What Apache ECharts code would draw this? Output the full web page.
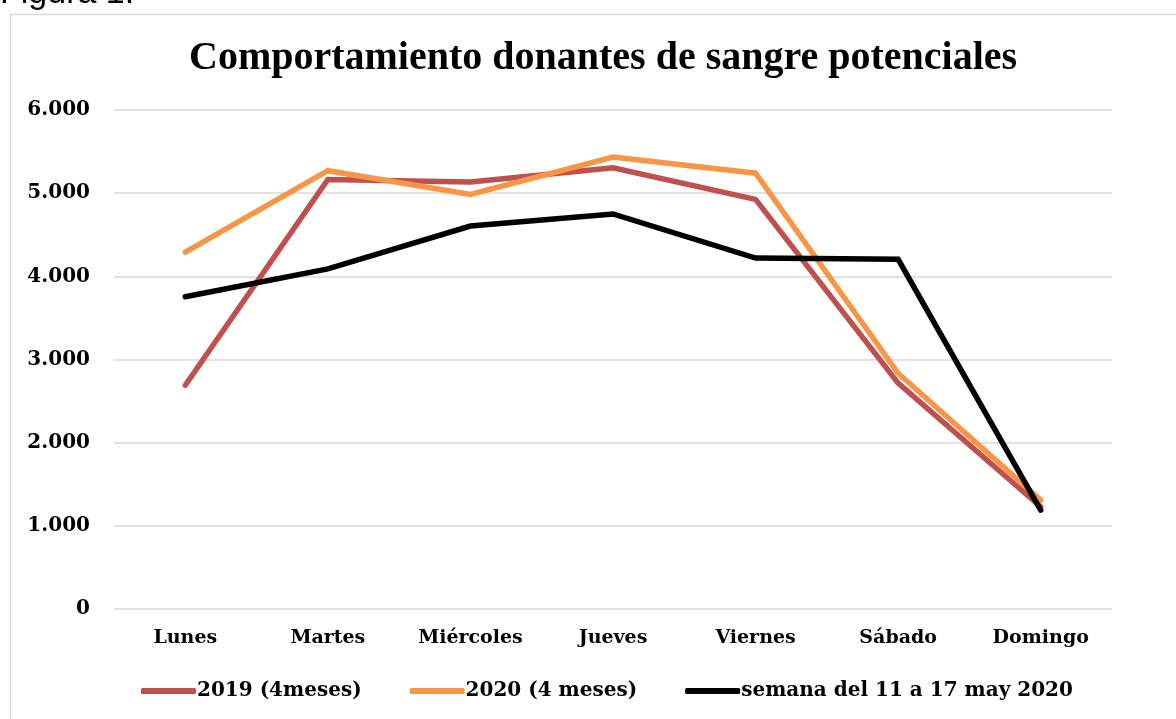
<!DOCTYPE html>
<html lang="es">
<head>
    <meta charset="UTF-8">
    <title>Figura 1</title>
    <script src="https://cdn.jsdelivr.net/npm/echarts@6/dist/echarts.min.js"></script>
    <style>
        html, body { margin: 0; padding: 0; background: #fff; }
        #chart { width: 1176px; height: 719px; }
    </style>
</head>
<body>
<div id="chart"></div>
<script>
    // datos
    var dias = ['Lunes', 'Martes', 'Miércoles', 'Jueves', 'Viernes', 'Sábado', 'Domingo'];
    var serie2019 = [2690, 5165, 5135, 5305, 4925, 2715, 1230];
    var serie2020 = [4290, 5270, 4985, 5435, 5240, 2835, 1310];
    var semanaMayo = [3755, 4090, 4605, 4750, 4220, 4205, 1190];
    var nombres = ['2019 (4meses)', '2020 (4 meses)', 'semana del 11 a 17 may 2020'];
    var colores = ['#C0504D', '#F79646', '#000000'];

    var fuente = '"DejaVu Serif", serif';

    function miles(v) {
        return String(v).replace(/\B(?=(\d{3})+(?!\d))/g, '.');
    }

    function linea(i, datos) {
        return {
            name: nombres[i],
            type: 'line',
            data: datos,
            symbol: 'none',
            lineStyle: { color: colores[i], width: 5.5, cap: 'round', join: 'miter' },
            itemStyle: { color: colores[i] },
            z: 10 + i
        };
    }

    var myChart = echarts.init(document.getElementById('chart'));
    var option = {
        backgroundColor: '#fff',
        animation: false,
        title: {
            text: 'Comportamiento donantes de sangre potenciales',
            left: 184,
            top: 34,
            textStyle: { fontFamily: '"Liberation Serif", serif', fontWeight: 'bold', fontSize: 40, color: '#000' }
        },
        graphic: [
            {
                type: 'rect',
                shape: { x: 10.5, y: 14.5, width: 1200, height: 800 },
                style: { fill: 'none', stroke: '#d9d9d9', lineWidth: 1.5 },
                silent: true
            },
            {
                type: 'text',
                left: 0,
                top: -23,
                style: { text: 'Figura 1.', font: '34px "Liberation Sans", Arial, sans-serif', fill: '#000' }
            }
        ],
        legend: {
            bottom: 13,
            left: 136,
            data: nombres,
            icon: 'roundRect',
            itemWidth: 55,
            itemHeight: 6,
            itemGap: 48,
            textStyle: { fontFamily: fuente, fontWeight: 'bold', fontSize: 20, color: '#000', padding: [0, 0, 0, -4] }
        },
        grid: { left: 114, right: 64, top: 110, bottom: 110 },
        xAxis: {
            type: 'category',
            data: dias,
            boundaryGap: true,
            axisLine: { show: false },
            axisTick: { show: false },
            axisLabel: { margin: 20, fontFamily: fuente, fontWeight: 'bold', fontSize: 19, color: '#000' }
        },
        yAxis: {
            type: 'value',
            min: 0,
            max: 6000,
            interval: 1000,
            axisLine: { show: false },
            axisTick: { show: false },
            axisLabel: {
                margin: 24,
                fontFamily: fuente, fontWeight: 'bold', fontSize: 20, color: '#000',
                formatter: miles
            },
            splitLine: { lineStyle: { color: '#d9d9d9', width: 1.5 } }
        },
        series: [
            linea(0, serie2019),
            linea(1, serie2020),
            linea(2, semanaMayo)
        ]
    };
    myChart.setOption(option);
</script>
</body>
</html>
